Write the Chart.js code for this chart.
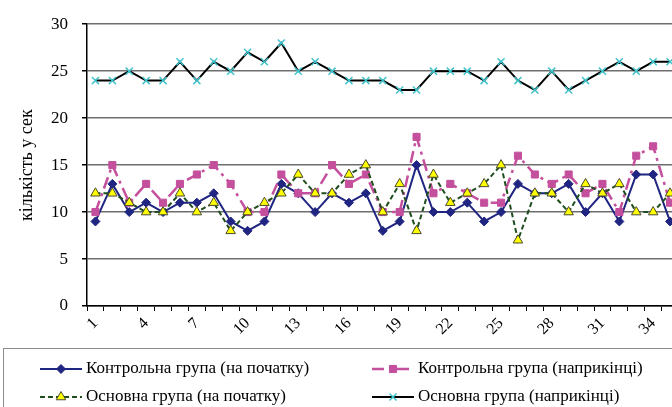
<!DOCTYPE html>
<html>
<head>
<meta charset="utf-8">
<script src="https://cdn.jsdelivr.net/npm/chart.js@4.4.1/dist/chart.umd.min.js"></script>
<style>
  html, body { margin: 0; padding: 0; background: #fff; overflow: hidden; }
</style>
</head>
<body>
<canvas id="chart" width="690" height="407"></canvas>
<script>
const days = ['1','2','3','4','5','6','7','8','9','10','11','12','13','14','15','16','17','18',
  '19','20','21','22','23','24','25','26','27','28','29','30','31','32','33','34','35'];
const shownTicks = ['1','4','7','10','13','16','19','22','25','28','31','34'];

const controlStart = [9,13,10,11,10,11,11,12,9,8,9,13,12,10,12,11,12,8,9,15,10,10,11,9,10,13,12,12,13,10,12,9,14,14,9];
const controlEnd   = [10,15,11,13,11,13,14,15,13,10,10,14,12,12,15,13,14,10,10,18,12,13,12,11,11,16,14,13,14,12,13,10,16,17,11];
const mainStart    = [12,12,11,10,10,12,10,11,8,10,11,12,14,12,12,14,15,10,13,8,14,11,12,13,15,7,12,12,10,13,12,13,10,10,12];
const mainEnd      = [24,24,25,24,24,26,24,26,25,27,26,28,25,26,25,24,24,24,23,23,25,25,25,24,26,24,23,25,23,24,25,26,25,26,26];

const serif = '"Liberation Serif", "DejaVu Serif", serif';

// legend drawn inside the canvas, two columns like the original
const boxLegend = {
    id: 'boxLegend',
    afterDraw(chart) {
        const ctx = chart.ctx;
        ctx.save();
        ctx.strokeStyle = '#8c8c8c';
        ctx.lineWidth = 1;
        ctx.strokeRect(3.5, 348.5, 700, 80);

        const spots = [
            {ds: 0, x: 40, y: 369},
            {ds: 1, x: 372, y: 369},
            {ds: 2, x: 40, y: 397},
            {ds: 3, x: 372, y: 397},
        ];
        ctx.font = '17px "Liberation Serif", serif';
        ctx.textBaseline = 'middle';
        spots.forEach((s) => {
            const d = chart.data.datasets[s.ds];
            ctx.save();
            ctx.strokeStyle = d.borderColor;
            ctx.lineWidth = d.borderWidth;
            ctx.setLineDash(d.borderDash || []);
            ctx.beginPath();
            ctx.moveTo(s.x, s.y);
            ctx.lineTo(s.x + 42, s.y);
            ctx.stroke();
            ctx.setLineDash([]);
            ctx.fillStyle = d.pointBackgroundColor;
            ctx.strokeStyle = d.pointBorderColor;
            ctx.lineWidth = d.pointBorderWidth;
            Chart.helpers.drawPoint(ctx, {
                pointStyle: d.pointStyle, radius: d.pointRadius,
                borderWidth: d.pointBorderWidth, rotation: 0
            }, s.x + 21, s.y);
            ctx.restore();
            ctx.fillStyle = '#000';
            ctx.fillText(d.label, s.x + 46, s.y);
        });
        ctx.restore();
    }
};

new Chart(document.getElementById('chart').getContext('2d'), {
    type: 'line',
    data: {
        labels: days,
        datasets: [
            {
                label: 'Контрольна група (на початку)',
                data: controlStart,
                borderColor: '#1f2580',
                borderWidth: 2,
                pointStyle: 'rectRot',
                pointRadius: 4.5,
                pointBackgroundColor: '#1f2580',
                pointBorderColor: '#1f2580',
                pointBorderWidth: 1,
                order: 2,
            },
            {
                label: 'Контрольна група (наприкінці)',
                data: controlEnd,
                borderColor: '#c44f9c',
                borderWidth: 2.5,
                borderDash: [12, 5, 3, 5],
                pointStyle: 'rect',
                pointRadius: 5,
                pointBackgroundColor: '#c44f9c',
                pointBorderColor: '#c44f9c',
                pointBorderWidth: 1,
                order: 1,
            },
            {
                label: 'Основна група (на початку)',
                data: mainStart,
                borderColor: '#1e4d1e',
                borderWidth: 2,
                borderDash: [5, 3],
                pointStyle: 'triangle',
                pointRadius: 5.5,
                pointBackgroundColor: '#ffff00',
                pointBorderColor: '#4a4a30',
                pointBorderWidth: 1,
                order: 0,
            },
            {
                label: 'Основна група (наприкінці)',
                data: mainEnd,
                borderColor: '#000000',
                borderWidth: 2,
                pointStyle: 'crossRot',
                pointRadius: 5,
                pointBackgroundColor: '#3fc4cc',
                pointBorderColor: '#3fc4cc',
                pointBorderWidth: 1.5,
                order: 3,
            },
        ],
    },
    options: {
        responsive: false,
        animation: false,
        layout: {padding: {left: 0, right: 11.5, top: 16, bottom: 62}},
        plugins: {
            legend: {display: false},
            tooltip: {enabled: false},
        },
        scales: {
            x: {
                offset: true,
                grid: {
                    display: true,
                    drawOnChartArea: false,
                    drawTicks: true,
                    tickLength: 5,
                    offset: true,
                    color: '#000',
                },
                border: {color: '#000', width: 1.5},
                ticks: {
                    autoSkip: false,
                    minRotation: 45,
                    maxRotation: 45,
                    padding: 3,
                    color: '#000',
                    font: {family: serif, size: 16},
                    callback: function (val) {
                        const lbl = this.getLabelForValue(val);
                        return shownTicks.includes(lbl) ? lbl : '';
                    },
                },
                afterFit: (scale) => { scale.height = 39; },
            },
            y: {
                min: 0,
                max: 30,
                grid: {color: '#6e6e6e', lineWidth: 1.5, tickLength: 5, tickColor: '#000'},
                border: {color: '#000', width: 1.5},
                ticks: {
                    stepSize: 5,
                    padding: 14,
                    color: '#000',
                    font: {family: serif, size: 17},
                },
                title: {
                    display: true,
                    text: 'кількість у сек',
                    color: '#000',
                    font: {family: serif, size: 18},
                    padding: {top: 16, bottom: 0},
                },
                afterFit: (scale) => { scale.width = 87; },
            },
        },
    },
    plugins: [boxLegend],
});
</script>
</body>
</html>
